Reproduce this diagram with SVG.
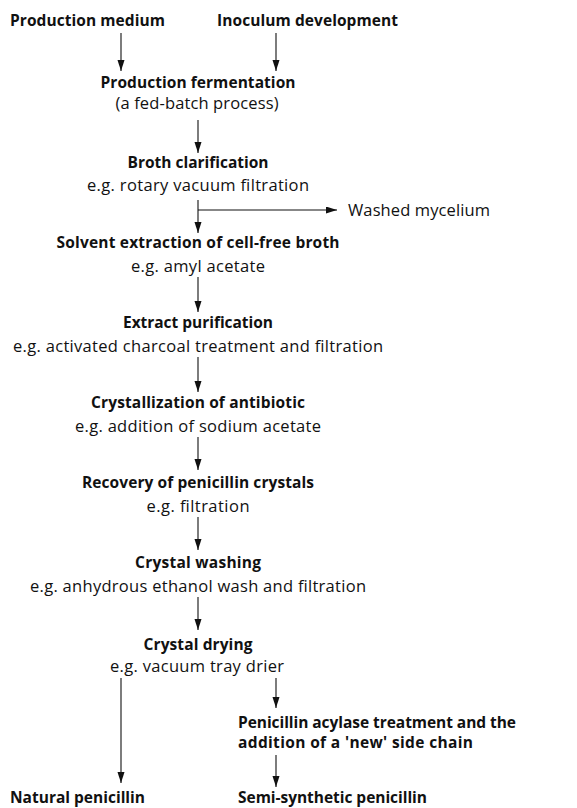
<svg xmlns="http://www.w3.org/2000/svg" width="577" height="808" viewBox="0 0 577 808">
<style>
text{font-family:"Open Sans","Noto Sans","Liberation Sans",sans-serif;font-size:16.5px;fill:#111}
.b{font-weight:bold;font-size:15.5px}
.c{text-anchor:middle}
.ln{stroke:#111;stroke-width:1.1;fill:none}
</style>
<defs>
<marker id="ah" markerWidth="11" markerHeight="8" refX="11" refY="3.5" orient="auto" markerUnits="userSpaceOnUse">
<path d="M0,0 L11,3.5 L0,7 Z" fill="#111"/>
</marker>
</defs>
<rect width="577" height="808" fill="#fff"/>
<g id="production-medium"><text class="b" x="10" y="26" textLength="155">Production medium</text></g>
<g id="inoculum"><text class="b" x="217" y="26" textLength="181">Inoculum development</text></g>
<g id="fermentation"><text class="b c" x="198" y="88" textLength="195">Production fermentation</text><text class="c" x="197" y="109" textLength="163">(a fed-batch process)</text></g>
<g id="clarification"><text class="b c" x="198" y="168" textLength="141">Broth clarification</text><text class="c" x="198" y="191" textLength="222">e.g. rotary vacuum filtration</text></g>
<g id="mycelium"><text x="348" y="216" textLength="142">Washed mycelium</text></g>
<g id="extraction"><text class="b c" x="198" y="248" textLength="283">Solvent extraction of cell-free broth</text><text class="c" x="198" y="272" textLength="134">e.g. amyl acetate</text></g>
<g id="purification"><text class="b c" x="198" y="328" textLength="150">Extract purification</text><text class="c" x="198" y="352" textLength="370">e.g. activated charcoal treatment and filtration</text></g>
<g id="crystallization"><text class="b c" x="198" y="408" textLength="214">Crystallization of antibiotic</text><text class="c" x="198" y="432" textLength="246">e.g. addition of sodium acetate</text></g>
<g id="recovery"><text class="b c" x="198" y="488" textLength="232">Recovery of penicillin crystals</text><text class="c" x="198" y="512" textLength="103">e.g. filtration</text></g>
<g id="washing"><text class="b c" x="198" y="568" textLength="126">Crystal washing</text><text class="c" x="198" y="592" textLength="336">e.g. anhydrous ethanol wash and filtration</text></g>
<g id="drying"><text class="b c" x="198" y="650" textLength="109">Crystal drying</text><text class="c" x="197" y="672" textLength="174">e.g. vacuum tray drier</text></g>
<g id="acylase"><text class="b" x="238" y="728" textLength="278">Penicillin acylase treatment and the</text><text class="b" x="238" y="748" textLength="235">addition of a 'new' side chain</text></g>
<g id="natural"><text class="b" x="10" y="803" textLength="135">Natural penicillin</text></g>
<g id="semisynthetic"><text class="b" x="238" y="803" textLength="189">Semi-synthetic penicillin</text></g>
<g id="connectors" class="ln">
<line x1="121" y1="33" x2="121" y2="71" marker-end="url(#ah)"/>
<line x1="276" y1="33" x2="276" y2="71" marker-end="url(#ah)"/>
<line x1="198" y1="120" x2="198" y2="153" marker-end="url(#ah)"/>
<line x1="198" y1="200" x2="198" y2="233" marker-end="url(#ah)"/>
<line x1="198" y1="210" x2="337" y2="210" marker-end="url(#ah)"/>
<line x1="198" y1="277" x2="198" y2="312" marker-end="url(#ah)"/>
<line x1="198" y1="357" x2="198" y2="392" marker-end="url(#ah)"/>
<line x1="198" y1="437" x2="198" y2="470" marker-end="url(#ah)"/>
<line x1="198" y1="517" x2="198" y2="550" marker-end="url(#ah)"/>
<line x1="198" y1="597" x2="198" y2="630" marker-end="url(#ah)"/>
<line x1="121" y1="678" x2="121" y2="783" marker-end="url(#ah)"/>
<line x1="276" y1="678" x2="276" y2="708" marker-end="url(#ah)"/>
<line x1="276" y1="755" x2="276" y2="787" marker-end="url(#ah)"/>
</g>
</svg>
